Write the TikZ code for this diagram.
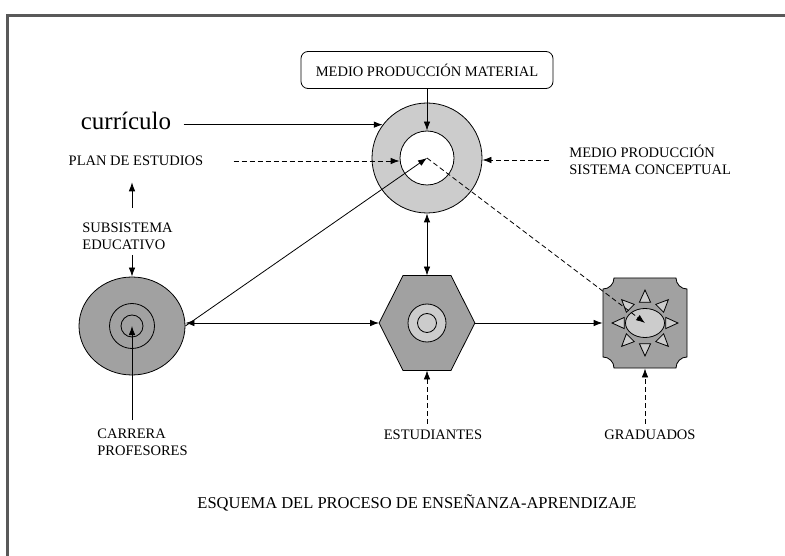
\documentclass[tikz,border=0pt]{standalone}
\usepackage{fontspec}
\setmainfont{Liberation Serif}
\usetikzlibrary{arrows.meta,calc,shapes.geometric}

\definecolor{lightfill}{gray}{0.80}
\definecolor{darkfill}{gray}{0.63}
\definecolor{framegray}{gray}{0.35}

\begin{document}
\begin{tikzpicture}[
        x=1pt, y=-1pt,
        >={Latex[length=9pt,width=6.5pt]},
        line width=0.8pt,
        txt/.style ={font=\fontsize{14.5}{17}\selectfont, inner sep=0pt, align=left},
        matbox/.style ={draw, rounded corners=7pt, minimum width=252pt, minimum height=37pt, font=\fontsize{14.5}{17}\selectfont},
        disc/.style ={draw, circle, inner sep=0pt, minimum size=#1},
        dashline/.style ={dash pattern=on 5pt off 3pt},
    ]
    \useasboundingbox (0,0) rectangle (785,556);
    \draw[line width=3pt, framegray] (7,16) rectangle (800,580);

    % upper ring
    \node[matbox] (material) at (427,70) {MEDIO PRODUCCIÓN MATERIAL};
    \node[disc=110pt, fill=lightfill] (ring) at (427,158) {};
    \node[disc=54pt, fill=white] (core) at (427,158) {};

    % left circle
    \node[draw, ellipse, fill=darkfill, inner sep=0pt, minimum width=106pt, minimum height=98pt] (carrer) at (132,326) {};
    \node[disc=45pt, fill=darkfill] (carmid) at (132,326) {};
    \node[disc=22pt, fill=darkfill] (carin) at (132,326) {};

    % hexagon
    \node[inner sep=0pt, minimum width=95pt, minimum height=94pt] (hex) at (427,323) {};
    \draw[fill=darkfill] (hex.west) -- ($(hex.north)+(-24,0)$) -- ($(hex.north)+(24,0)$)
        -- (hex.east) -- ($(hex.south)+(24,0)$) -- ($(hex.south)+(-24,0)$) -- cycle;
    \node[disc=38pt, fill=lightfill] (estmid) at (hex) {};
    \node[disc=19pt, fill=lightfill] (estin) at (hex) {};

    % graduates box
    \node[inner sep=0pt, minimum width=84pt, minimum height=90pt] (grad) at (645,323) {};
    \draw[fill=darkfill, shift={(grad.center)}] (-31,-45) -- (31,-45)
        arc[start angle=180, end angle=90, radius=11] -- (42,34)
        arc[start angle=270, end angle=180, radius=11] -- (-31,45)
        arc[start angle=0, end angle=-90, radius=11] -- (-42,-34)
        arc[start angle=90, end angle=0, radius=11] -- cycle;
    \foreach \a in {0,45,...,315}
        \draw[fill=lightfill, shift={(grad.center)}] (\a:33) -- (\a+15:21.5) -- (\a-15:21.5) -- cycle;
    \node[draw, ellipse, fill=lightfill, inner sep=0pt, minimum width=39pt, minimum height=29pt] (sun) at (grad) {};

    % texts
    \node[inner sep=0pt, font=\fontsize{25}{28}\selectfont] (curriculo) at (126,121) {currículo};
    \node[txt] (plan) at (136,161) {PLAN DE ESTUDIOS};
    \node[txt, anchor=west] (subs) at (82,236) {SUBSISTEMA\\EDUCATIVO};
    \node[txt, anchor=west] (sisc) at (569,160) {MEDIO PRODUCCIÓN\\SISTEMA CONCEPTUAL};
    \node[txt, anchor=west] (carrera) at (97,442) {CARRERA\\PROFESORES};
    \node[txt] (estud) at (433,435) {ESTUDIANTES};
    \node[txt] (grads) at (650,435) {GRADUADOS};
    \node[inner sep=0pt, font=\fontsize{16.5}{19}\selectfont] (title) at (417,503) {ESQUEMA DEL PROCESO DE ENSEÑANZA-APRENDIZAJE};

    % connectors
    \path (material) edge[->] (core);
    \path (curriculo.east |- ring.143) edge[->, shorten <=12pt] (ring.143);
    \path (plan.east) edge[->, dashline, shorten <=30pt] (plan.east -| core.west);
    \path (sisc.west) edge[->, dashline, shorten <=20pt] (sisc.west -| ring.east);
    \path (subs.north -| carrer) edge[->, shorten <=14pt, shorten >=16pt] (plan.south -| carrer);
    \path (subs.south -| carrer) edge[->, shorten <=5pt] (carrer.north);
    \path (carrera.north -| carrer) edge[->, shorten <=8pt] (carrer.center);
    \path (hex.west) edge[<->] (hex.west -| carrer.east);
    \path (carrer.east) edge[->] (core.center);
    \path (ring) edge[<->] (hex);
    \path (hex) edge[->] (grad);
    \path (core.center) edge[->, dashline] (grad.center);
    \path (estud.north -| hex) edge[->, dashline, shorten <=6pt] (hex.south);
    \path (grads.north -| grad) edge[->, dashline, shorten <=6pt] (grad.south);
\end{tikzpicture}
\end{document}
